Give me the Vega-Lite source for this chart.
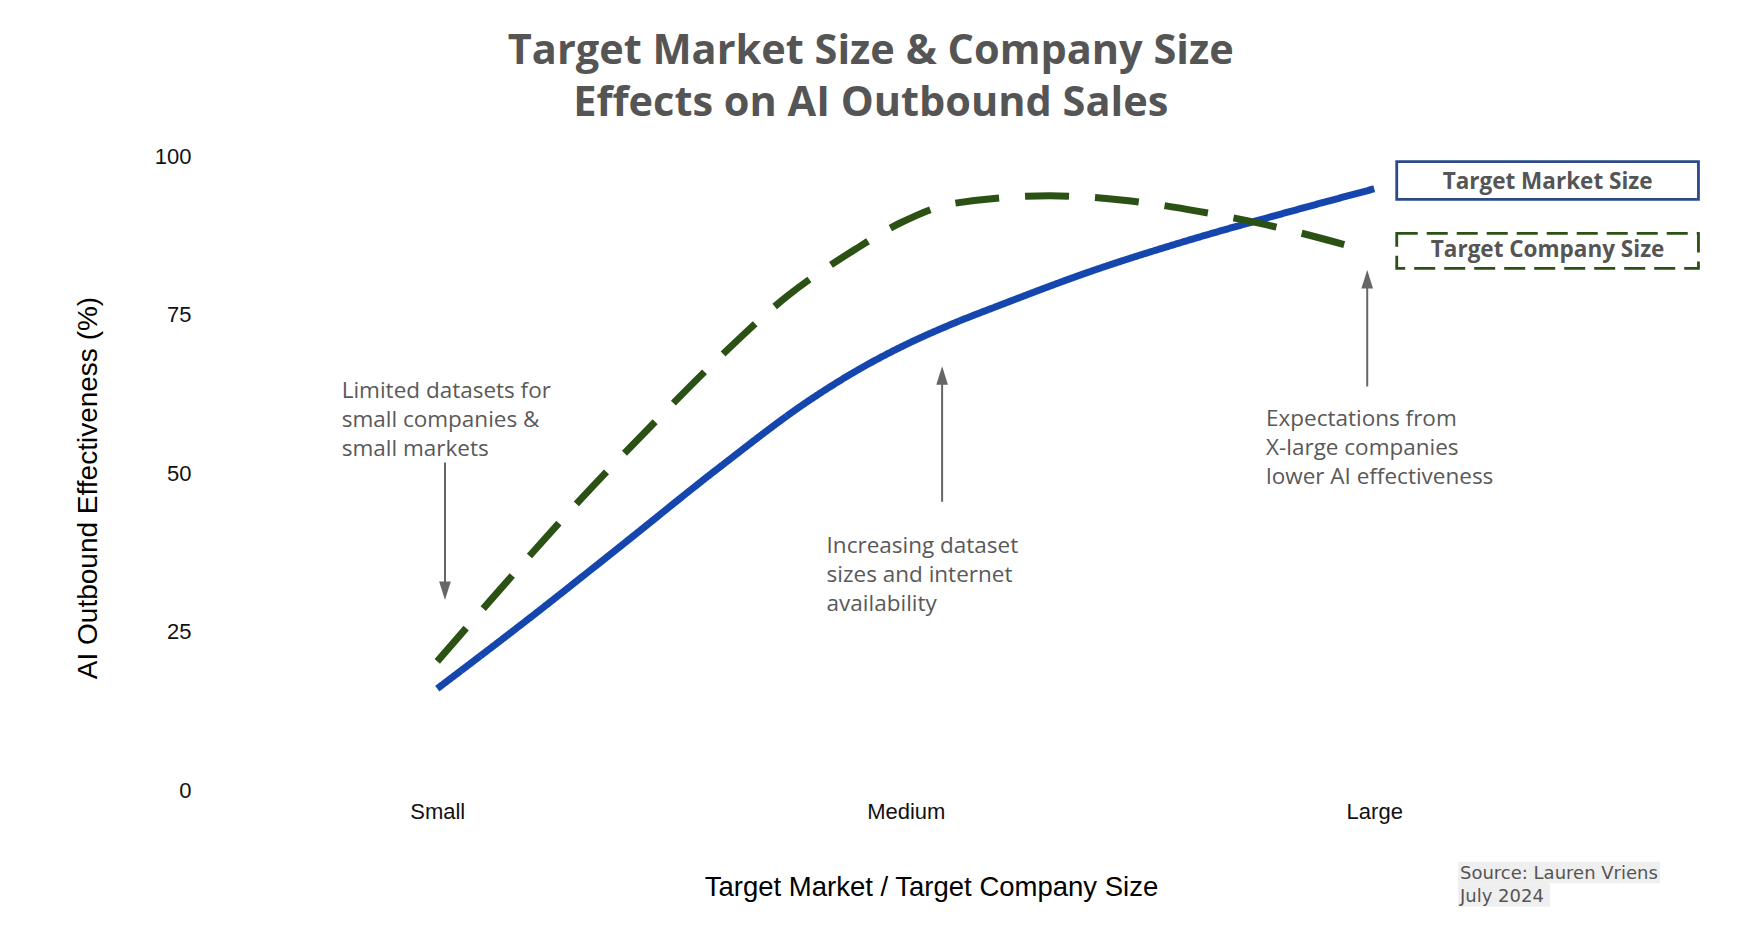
{
  "$schema": "https://vega.github.io/schema/vega-lite/v6.json",
  "autosize": {"type": "none"},
  "width": 1405.5,
  "height": 633.5,
  "padding": {"left": 203, "top": 156.5, "right": 131.5, "bottom": 160},
  "background": "white",
  "title": {
    "text": ["Target Market Size & Company Size", "Effects on AI Outbound Sales"],
    "font": "Open Sans",
    "fontWeight": "bold",
    "fontSize": 41.5,
    "lineHeight": 52,
    "color": "#555555",
    "anchor": "middle",
    "dx": -35,
    "offset": 21
  },
  "config": {"view": {"stroke": null}},
  "datasets": {
    "curves": [
      {"series": "Target Market Size", "x": 0, "y": 16.0},
      {"series": "Target Market Size", "x": 0.2, "y": 27.3},
      {"series": "Target Market Size", "x": 0.4, "y": 39.0},
      {"series": "Target Market Size", "x": 0.6, "y": 50.8},
      {"series": "Target Market Size", "x": 0.8, "y": 61.8},
      {"series": "Target Market Size", "x": 0.9, "y": 66.4},
      {"series": "Target Market Size", "x": 1.0, "y": 70.3},
      {"series": "Target Market Size", "x": 1.1, "y": 73.6},
      {"series": "Target Market Size", "x": 1.2, "y": 76.5},
      {"series": "Target Market Size", "x": 1.4, "y": 82.0},
      {"series": "Target Market Size", "x": 1.6, "y": 86.7},
      {"series": "Target Market Size", "x": 1.8, "y": 90.9},
      {"series": "Target Market Size", "x": 2.0, "y": 94.9},
      {"series": "Target Company Size", "x": 0, "y": 20.3},
      {"series": "Target Company Size", "x": 0.106, "y": 29.3},
      {"series": "Target Company Size", "x": 0.305, "y": 45.8},
      {"series": "Target Company Size", "x": 0.462, "y": 57.9},
      {"series": "Target Company Size", "x": 0.604, "y": 68.4},
      {"series": "Target Company Size", "x": 0.746, "y": 77.9},
      {"series": "Target Company Size", "x": 0.889, "y": 85.2},
      {"series": "Target Company Size", "x": 0.988, "y": 89.5},
      {"series": "Target Company Size", "x": 1.102, "y": 92.6},
      {"series": "Target Company Size", "x": 1.308, "y": 93.8},
      {"series": "Target Company Size", "x": 1.465, "y": 93.1},
      {"series": "Target Company Size", "x": 1.628, "y": 91.3},
      {"series": "Target Company Size", "x": 1.771, "y": 89.2},
      {"series": "Target Company Size", "x": 1.98, "y": 85.2}
    ],
    "arrows": [
      {"x": 0.0165, "y": 51.7, "y2": 32.5, "tip": 30.0, "dir": "down"},
      {"x": 1.0776, "y": 45.5, "y2": 64.5, "tip": 66.9, "dir": "up"},
      {"x": 1.985, "y": 63.7, "y2": 80.0, "tip": 82.1, "dir": "up"}
    ],
    "notes": [
      {"x": -0.204, "y": 61.8, "text": "Limited datasets for\nsmall companies &\nsmall markets"},
      {"x": 0.831, "y": 37.45, "text": "Increasing dataset\nsizes and internet\navailability"},
      {"x": 1.769, "y": 57.4, "text": "Expectations from\nX-large companies\nlower AI effectiveness"}
    ],
    "legend": [
      {"series": "Target Market Size", "x": 2.048, "x2": 2.692, "y": 99.18, "y2": 93.24, "ty": 95.9},
      {"series": "Target Company Size", "x": 2.048, "x2": 2.692, "y": 87.88, "y2": 82.35, "ty": 85.24}
    ],
    "source_bg": [
      {"x": 2.179, "x2": 2.61, "y": -11.32, "y2": -14.73},
      {"x": 2.179, "x2": 2.375, "y": -14.73, "y2": -18.42}
    ],
    "source": [
      {"x": 2.183, "y": -14.0, "text": "Source: Lauren Vriens\nJuly 2024"}
    ]
  },
  "layer": [
    {
      "data": {"name": "curves"},
      "mark": {"type": "line", "interpolate": "monotone", "strokeWidth": 7, "strokeCap": "butt"},
      "encoding": {
        "x": {
          "field": "x", "type": "quantitative",
          "scale": {"domain": [-0.5, 2.5], "nice": false, "zero": false},
          "axis": {
            "title": "Target Market / Target Company Size",
            "values": [0, 1, 2],
            "labelExpr": "datum.value == 0 ? 'Small' : datum.value == 1 ? 'Medium' : 'Large'",
            "grid": false, "domain": false, "ticks": false,
            "labelFont": "Liberation Sans", "labelFontSize": 22, "labelColor": "#111111",
            "labelPadding": 11,
            "titleFont": "Liberation Sans",
            "titleFontSize": 27.5, "titleFontWeight": "normal", "titleColor": "#000000",
            "titleX": 728, "titleY": 105, "titleBaseline": "alphabetic", "titleAlign": "center"
          }
        },
        "y": {
          "field": "y", "type": "quantitative",
          "scale": {"domain": [0, 100], "nice": false},
          "axis": {
            "title": "AI Outbound Effectiveness (%)",
            "values": [0, 25, 50, 75, 100],
            "grid": false, "domain": false, "ticks": false,
            "labelFont": "Liberation Sans", "labelFontSize": 22, "labelColor": "#111111",
            "labelPadding": 12,
            "titleFont": "Liberation Sans",
            "titleFontSize": 28, "titleFontWeight": "normal", "titleColor": "#000000",
            "titleAngle": -90, "titleX": -107, "titleY": 331, "titleBaseline": "alphabetic", "titleAlign": "center"
          }
        },
        "color": {
          "field": "series", "type": "nominal",
          "scale": {"domain": ["Target Market Size", "Target Company Size"], "range": ["#1546ad", "#2c5115"]},
          "legend": null
        },
        "strokeDash": {
          "field": "series", "type": "nominal",
          "scale": {"domain": ["Target Market Size", "Target Company Size"], "range": [[1, 0], [44, 26]]},
          "legend": null
        }
      }
    },
    {
      "data": {"name": "arrows"},
      "mark": {"type": "rule", "color": "#666666", "strokeWidth": 2},
      "encoding": {
        "x": {"field": "x", "type": "quantitative"},
        "y": {"field": "y", "type": "quantitative"},
        "y2": {"field": "y2"}
      }
    },
    {
      "data": {"name": "arrows"},
      "mark": {"type": "point", "filled": true, "color": "#666666", "opacity": 1, "size": 380},
      "encoding": {
        "x": {"field": "x", "type": "quantitative"},
        "y": {"field": "tip", "type": "quantitative"},
        "shape": {
          "field": "dir", "type": "nominal",
          "scale": {"domain": ["down", "up"], "range": ["M-0.6,-1.9L0.6,-1.9L0,0Z", "M-0.6,1.9L0.6,1.9L0,0Z"]},
          "legend": null
        }
      }
    },
    {
      "data": {"name": "notes"},
      "mark": {"type": "text", "align": "left", "baseline": "alphabetic", "lineBreak": "\n", "font": "Open Sans", "fontSize": 22.5, "lineHeight": 29, "color": "#595959"},
      "encoding": {
        "x": {"field": "x", "type": "quantitative"},
        "y": {"field": "y", "type": "quantitative"},
        "text": {"field": "text"}
      }
    },
    {
      "data": {"name": "legend"},
      "transform": [{"filter": "datum.series === 'Target Market Size'"}],
      "mark": {"type": "rect", "fill": "white", "stroke": "#2b4a8a", "strokeWidth": 2.8},
      "encoding": {
        "x": {"field": "x", "type": "quantitative"},
        "x2": {"field": "x2"},
        "y": {"field": "y", "type": "quantitative"},
        "y2": {"field": "y2"}
      }
    },
    {
      "data": {"name": "legend"},
      "transform": [{"filter": "datum.series === 'Target Company Size'"}],
      "mark": {"type": "rect", "fill": "white", "stroke": "#2c5115", "strokeWidth": 2.8, "strokeDash": [21, 9]},
      "encoding": {
        "x": {"field": "x", "type": "quantitative"},
        "x2": {"field": "x2"},
        "y": {"field": "y", "type": "quantitative"},
        "y2": {"field": "y2"}
      }
    },
    {
      "data": {"name": "legend"},
      "transform": [{"calculate": "(datum.x + datum.x2) / 2", "as": "xc"}],
      "mark": {"type": "text", "align": "center", "baseline": "middle", "font": "Open Sans", "fontWeight": "bold", "fontSize": 22.5, "color": "#555555"},
      "encoding": {
        "x": {"field": "xc", "type": "quantitative"},
        "y": {"field": "ty", "type": "quantitative"},
        "text": {"field": "series"}
      }
    },
    {
      "data": {"name": "source_bg"},
      "mark": {"type": "rect", "fill": "#efefef"},
      "encoding": {
        "x": {"field": "x", "type": "quantitative"},
        "x2": {"field": "x2"},
        "y": {"field": "y", "type": "quantitative"},
        "y2": {"field": "y2"}
      }
    },
    {
      "data": {"name": "source"},
      "mark": {"type": "text", "align": "left", "baseline": "alphabetic", "lineBreak": "\n", "font": "DejaVu Sans", "fontSize": 18, "lineHeight": 23.3, "color": "#555555"},
      "encoding": {
        "x": {"field": "x", "type": "quantitative"},
        "y": {"field": "y", "type": "quantitative"},
        "text": {"field": "text"}
      }
    }
  ]
}
